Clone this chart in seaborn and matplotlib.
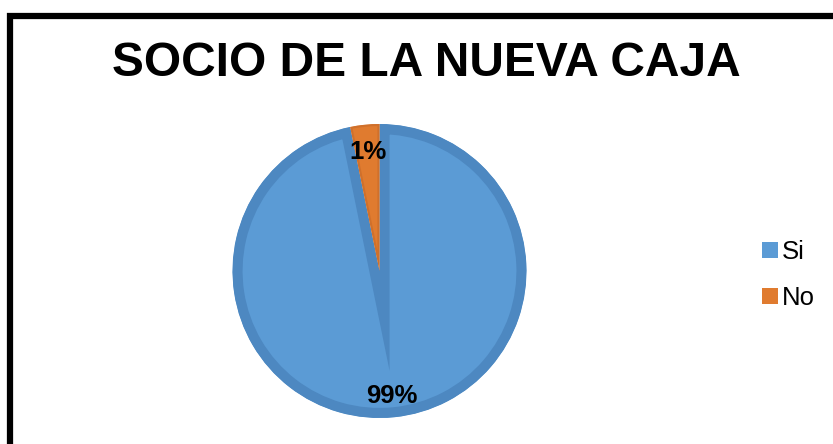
import matplotlib
matplotlib.use("Agg")
import matplotlib.pyplot as plt
import seaborn as sns
from matplotlib.patches import Patch, Rectangle, Wedge

# Data
categories = ["Si", "No"]
shares = [96.8, 3.2]          # slice sizes as seen in the picture
pct_labels = ["99%", "1%"]    # labels printed on the chart
fill_colors = ["#5B9BD5", "#E07B2F"]
rim_colors = ["#4D88C1", "#D0702B"]
rim_widths = [14.5, 3]
title = "SOCIO DE LA NUEVA CAJA"

sns.set_theme(style="white")
plt.rcParams["font.family"] = ["Liberation Sans", "DejaVu Sans"]

W, H = 833, 444
fig = plt.figure(figsize=(W / 100, H / 100), dpi=100)
fig.patch.set_facecolor("white")

# outer black frame (cropped at right and bottom)
frame = Rectangle((10 / W, -0.2), 1.2, 1 - 16 / H + 0.2, transform=fig.transFigure,
                  fill=False, edgecolor="black", linewidth=4.5, clip_on=False)
fig.patches.append(frame)

# pie axes (slightly larger than the pie so the rim is not cut by the axes box)
cx, cy, r = 379.5, 271, 147
m = 1.1
ax = fig.add_axes([(cx - m * r) / W, (H - cy - m * r) / H, 2 * m * r / W, 2 * m * r / H])
wedges, _ = ax.pie(shares, colors=fill_colors, startangle=90, counterclock=False,
                   radius=1.0, wedgeprops=dict(linewidth=0))
ax.set_xlim(-m, m)
ax.set_ylim(-m, m)
ax.set_aspect("equal")
ax.axis("off")
for w, rc, lw in zip(wedges, rim_colors, rim_widths):
    clip = Wedge(w.center, w.r, w.theta1, w.theta2, transform=ax.transData)
    w.set_edgecolor(rc)
    w.set_linewidth(lw)
    w.set_joinstyle("miter")
    w.set_clip_on(True)
    w.set_clip_path(clip)

# percentage labels
ax.text((392 - cx) / r, (cy - 396) / r, pct_labels[0], ha="center", va="center",
        fontsize=18.5, fontweight="bold", color="black")
ax.text((368 - cx) / r, (cy - 152) / r, pct_labels[1], ha="center", va="center",
        fontsize=18.5, fontweight="bold", color="black")

fig.text(426 / W, 1 - 64 / H, title, ha="center", va="center",
         fontsize=34.5, fontweight="bold", color="black")

handles = [Patch(facecolor=c, edgecolor="none") for c in fill_colors]
fig.legend(handles, categories, loc="center left", bbox_to_anchor=(739 / W, 1 - 275 / H),
           frameon=False, fontsize=18.5, handlelength=0.6, handleheight=0.6,
           handletextpad=0.15, labelspacing=0.85, labelcolor="black")

fig.savefig("out.png", dpi=100)
